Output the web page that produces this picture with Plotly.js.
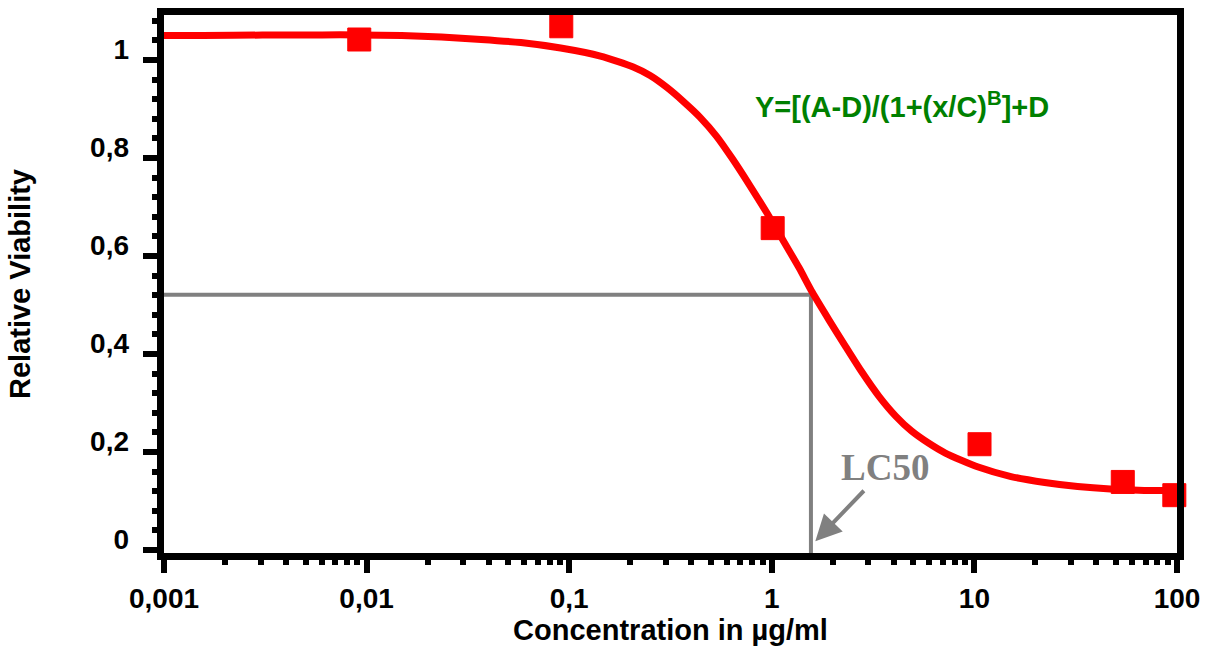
<!DOCTYPE html>
<html>
<head>
<meta charset="utf-8">
<script src="https://cdn.plot.ly/plotly-3.0.1.min.js"></script>
<style>html,body{margin:0;padding:0;background:#fff;}#chart{width:1219px;height:652px;}</style>
</head>
<body>
<div id="chart"></div>
<script>
// Measured data points (concentration µg/ml, relative viability)
const pointConc = [0.0092, 0.0914, 1.01, 10.6, 54, 97];
const pointViab = [1.042, 1.069, 0.657, 0.216, 0.139, 0.112];

// Fitted curve
const curveConc = [0.001, 0.001554, 0.00306, 0.006029, 0.009157, 0.01489, 0.02339, 0.03675, 0.05774, 0.09075, 0.1426, 0.2070, 0.2508, 0.3040, 0.3641, 0.4414, 0.5351, 0.6407, 0.7765, 0.9408, 1.127, 1.366, 1.582, 1.917, 2.323, 2.784, 3.373, 4.087, 4.897, 5.934, 7.190, 10.44, 15.16, 22.25, 32.31, 46.91, 68.87, 100];
const curveViab = [1.0500, 1.0504, 1.0510, 1.0514, 1.0514, 1.0500, 1.0469, 1.0422, 1.0357, 1.0245, 1.0082, 0.9857, 0.9684, 0.9439, 0.9163, 0.8837, 0.8439, 0.7980, 0.7449, 0.6898, 0.6347, 0.5755, 0.5265, 0.4694, 0.4143, 0.3633, 0.3143, 0.2735, 0.2429, 0.2184, 0.1980, 0.1694, 0.1500, 0.1378, 0.1296, 0.1245, 0.1218, 0.1214];

// LC50 guide
const lc50Conc = 1.56;
const lc50Viab = 0.521;

// Tick labels
const xTickVals = [0.001, 0.01, 0.1, 1, 10, 100];
const xTickText = ["0,001", "0,01", "0,1", "1", "10", "100"];
const yTickVals = [0, 0.2, 0.4, 0.6, 0.8, 1];
const yTickText = ["0", "0,2", "0,4", "0,6", "0,8", "1"];

const equationText = "Y=[(A-D)/(1+(x/C)<sup>B</sup>]+D";
const xTitle = "Concentration in µg/ml";
const yTitle = "Relative Viability";

// minor log ticks 2..9 in each decade
const xMinor = [];
for (let e = -3; e < 2; e++) { for (let k = 2; k <= 9; k++) xMinor.push(k * Math.pow(10, e)); }

const yRange = [-0.006, 1.092];
const labelShift = 0.022; // y tick labels sit slightly above their ticks

const sans = "Liberation Sans, Arial, Helvetica, sans-serif";
const serif = "Liberation Serif, Times New Roman, serif";

const traces = [
  {
    x: [xTickVals[0], lc50Conc, lc50Conc],
    y: [lc50Viab, lc50Viab, yRange[0]],
    mode: "lines",
    line: {color: "#808080", width: 4},
    hoverinfo: "skip"
  },
  {
    x: curveConc, y: curveViab,
    mode: "lines",
    line: {color: "#ff0000", width: 7, shape: "spline", smoothing: 0.6},
    hoverinfo: "skip"
  },
  {
    x: pointConc, y: pointViab,
    mode: "markers",
    marker: {symbol: "square", size: 23, color: "#ff0000", line: {color: "#ff0000", width: 1}},
    cliponaxis: false
  },
  {
    x: [null], y: [null], yaxis: "y2", mode: "markers", hoverinfo: "skip", showlegend: false
  }
];

const layout = {
  width: 1219, height: 652,
  margin: {l: 164, r: 42, t: 15, b: 99},
  paper_bgcolor: "white", plot_bgcolor: "white",
  showlegend: false,
  font: {family: sans, color: "black"},
  xaxis: {
    type: "log", range: [-3, 2],
    showline: true, mirror: true, linewidth: 7, linecolor: "black",
    showgrid: false, zeroline: false,
    ticks: "outside", ticklen: 13, tickwidth: 6, tickcolor: "black",
    tickmode: "array", tickvals: xTickVals, ticktext: xTickText,
    tickfont: {size: 28, family: sans, weight: 700, color: "black"},
    ticklabelstandoff: 1,
    minor: {tickmode: "array", tickvals: xMinor, ticks: "outside", ticklen: 5, tickwidth: 6, tickcolor: "black", showgrid: false},
    title: {text: xTitle, font: {size: 29, family: sans, weight: 700, color: "black"}, standoff: 8}
  },
  yaxis: {
    range: yRange,
    showline: true, mirror: true, linewidth: 7, linecolor: "black",
    showgrid: false, zeroline: false,
    ticks: "outside", ticklen: 14, tickwidth: 6, tickcolor: "black",
    tickmode: "array", tickvals: yTickVals, showticklabels: false,
    minor: {tickmode: "linear", tick0: 0, dtick: 0.04, ticks: "outside", ticklen: 5, tickwidth: 6, tickcolor: "black", showgrid: false}
  },
  yaxis2: {
    overlaying: "y", anchor: "x", side: "left",
    range: [yRange[0] - labelShift, yRange[1] - labelShift],
    showline: false, showgrid: false, zeroline: false, ticks: "",
    tickmode: "array", tickvals: yTickVals, ticktext: yTickText,
    tickfont: {size: 28, family: sans, weight: 700, color: "black"},
    ticklabelstandoff: 34,
    title: {text: yTitle, font: {size: 29, family: sans, weight: 700, color: "black"}, standoff: 50}
  },
  annotations: [
    {
      xref: "paper", yref: "paper", x: 0.7285, y: 0.833,
      text: equationText, showarrow: false,
      font: {size: 29, family: sans, weight: 700, color: "#008000"},
      xanchor: "center", yanchor: "middle"
    },
    {
      xref: "paper", yref: "paper", x: 0.7117, y: 0.158,
      text: "LC50", showarrow: false,
      font: {size: 37, family: serif, weight: 700, color: "#808080"},
      xanchor: "center", yanchor: "middle"
    },
    {
      xref: "x", yref: "y", x: Math.log10(1.64), y: 0.018,
      text: "", showarrow: true, arrowhead: 2, arrowsize: 1.3, arrowwidth: 4,
      arrowcolor: "#808080", ax: 50, ay: -52, standoff: 0
    }
  ]
};

Plotly.newPlot("chart", traces, layout, {staticPlot: true, displayModeBar: false});
</script>
</body>
</html>
